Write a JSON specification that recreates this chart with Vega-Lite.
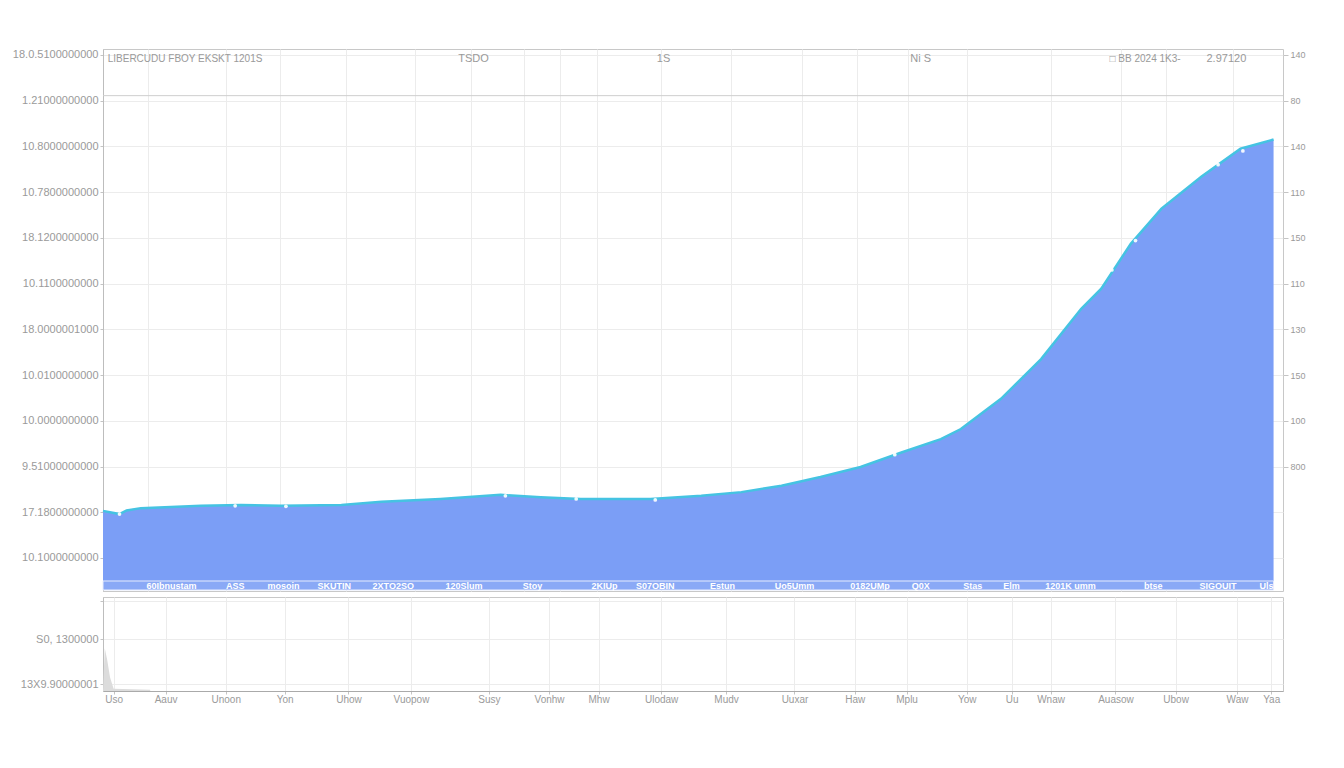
{
  "$schema": "https://vega.github.io/schema/vega-lite/v6.json",
  "padding": {"left": 5, "top": 48, "right": 5, "bottom": 5},
  "background": "white",
  "spacing": 4,
  "config": {
    "view": {"stroke": "#c8c8c8"},
    "axis": {"gridColor": "#ececec", "labelColor": "#9a9a9a", "labelFont": "Liberation Sans", "domainColor": "#bdbdbd", "tickColor": "#c4c4c4"}
  },
  "datasets": {
    "series": [
      {"t": 0, "v": 2.03}, {"t": 1.4, "v": 1.96}, {"t": 2.0, "v": 2.04}, {"t": 3.2, "v": 2.09},
      {"t": 8.3, "v": 2.14}, {"t": 11.7, "v": 2.16}, {"t": 15.1, "v": 2.14}, {"t": 20.2, "v": 2.16},
      {"t": 23.6, "v": 2.23}, {"t": 28.6, "v": 2.29}, {"t": 33.7, "v": 2.38}, {"t": 37.1, "v": 2.33},
      {"t": 40.5, "v": 2.29}, {"t": 46.4, "v": 2.29}, {"t": 50.7, "v": 2.36}, {"t": 54.1, "v": 2.44},
      {"t": 57.5, "v": 2.58}, {"t": 60.8, "v": 2.77}, {"t": 64.2, "v": 2.99}, {"t": 67.6, "v": 3.3},
      {"t": 71.0, "v": 3.6}, {"t": 72.7, "v": 3.82}, {"t": 76.1, "v": 4.48}, {"t": 79.5, "v": 5.35},
      {"t": 82.9, "v": 6.45}, {"t": 84.6, "v": 6.89}, {"t": 87.1, "v": 7.87}, {"t": 89.7, "v": 8.64},
      {"t": 93.1, "v": 9.34}, {"t": 96.4, "v": 9.95}, {"t": 99.2, "v": 10.15}
    ],
    "markers": [
      {"t": 1.4, "v": 1.96}, {"t": 11.2, "v": 2.14}, {"t": 15.5, "v": 2.13}, {"t": 34.1, "v": 2.36},
      {"t": 40.1, "v": 2.29}, {"t": 46.8, "v": 2.27}, {"t": 67.1, "v": 3.26}, {"t": 85.5, "v": 7.3},
      {"t": 87.5, "v": 7.94}, {"t": 94.5, "v": 9.6}, {"t": 96.6, "v": 9.9}
    ],
    "header": [
      {"t": 0.4, "label": "LIBERCUDU FBOY EKSKT 1201S", "a": "left"},
      {"t": 31.4, "label": "TSDO", "a": "center"},
      {"t": 47.5, "label": "1S", "a": "center"},
      {"t": 69.3, "label": "Ni  S", "a": "center"},
      {"t": 85.3, "label": "\u25a1  BB 2024 1K3-", "a": "left"},
      {"t": 95.2, "label": "2.97120", "a": "center"}
    ],
    "band": [
      {"t": 5.8, "label": "60Ibnustam"}, {"t": 11.2, "label": "ASS"}, {"t": 15.3, "label": "mosoin"},
      {"t": 19.6, "label": "SKUTIN"}, {"t": 24.6, "label": "2XTO2SO"}, {"t": 30.6, "label": "120Slum"},
      {"t": 36.4, "label": "Stoy"}, {"t": 42.5, "label": "2KIUp"}, {"t": 46.8, "label": "S07OBIN"},
      {"t": 52.5, "label": "Estun"}, {"t": 58.6, "label": "Uo5Umm"}, {"t": 65.0, "label": "0182UMp"},
      {"t": 69.3, "label": "Q0X"}, {"t": 73.7, "label": "Stas"}, {"t": 77.0, "label": "Elm"},
      {"t": 82.0, "label": "1201K umm"}, {"t": 89.0, "label": "btse"}, {"t": 94.5, "label": "SIGOUIT"},
      {"t": 98.6, "label": "Uls"}
    ],
    "spike": [
      {"t": 0, "v": 0.0}, {"t": 0.15, "v": 0.95}, {"t": 0.35, "v": 0.7}, {"t": 0.6, "v": 0.3},
      {"t": 0.9, "v": 0.05}, {"t": 4.0, "v": 0.03}
    ]
  },
  "vconcat": [
    {
      "width": 1180,
      "height": 542,
      "resolve": {"scale": {"y": "independent"}},
      "layer": [
        {
          "layer": [
            {
              "data": {"name": "series"},
              "mark": {"type": "area", "color": "#7b9ef6", "opacity": 1},
              "encoding": {
                "x": {"field": "t", "type": "quantitative", "title": null,
                  "scale": {"domain": [0, 100], "nice": false, "zero": false},
                  "axis": {"values": [3.8, 10.4, 15.0, 20.6, 26.4, 31.2, 35.7, 38.7, 41.9, 47.3, 53.2, 59.2, 63.9, 68.2, 73.2, 80.3, 86.3, 90.1, 95.8],
                    "labels": false, "ticks": false, "domain": false, "grid": true, "title": null, "minExtent": 0, "maxExtent": 0}},
                "y": {"field": "v", "type": "quantitative", "title": null,
                  "scale": {"domain": [0.278, 12.13], "nice": false, "zero": false},
                  "axis": {"values": [1, 2, 3, 4, 5, 6, 7, 8, 9, 10, 11, 12], "title": null,
                    "labelExpr": "['10.1000000000','17.1800000000','9.51000000000','10.0000000000','10.0100000000','18.0000001000','10.1100000000','18.1200000000','10.7800000000','10.8000000000','1.21000000000','18.0.5100000000'][datum.value-1]",
                    "labelFontSize": 11, "tickSize": 3, "minExtent": 97, "maxExtent": 97, "domain": true, "labelLimit": 0}},
                "y2": {"datum": 0.497}
              }
            },
            {
              "data": {"name": "series"},
              "mark": {"type": "line", "color": "#45c3e2", "strokeWidth": 2.5},
              "encoding": {
                "x": {"field": "t", "type": "quantitative", "title": null, "scale": {"domain": [0, 100], "nice": false, "zero": false}},
                "y": {"field": "v", "type": "quantitative", "title": null, "scale": {"domain": [0.278, 12.13], "nice": false, "zero": false}}
              }
            },
            {
              "data": {"name": "markers"},
              "mark": {"type": "point", "filled": true, "color": "white", "size": 14, "opacity": 0.9},
              "encoding": {
                "x": {"field": "t", "type": "quantitative", "title": null, "scale": {"domain": [0, 100], "nice": false, "zero": false}},
                "y": {"field": "v", "type": "quantitative", "title": null, "scale": {"domain": [0.278, 12.13], "nice": false, "zero": false}}
              }
            },
            {
              "data": {"values": [{}]},
              "mark": {"type": "rect", "color": "#8aa9f6", "stroke": "#e6ecfd", "strokeWidth": 1},
              "encoding": {
                "x": {"datum": 0, "type": "quantitative", "title": null, "scale": {"domain": [0, 100], "nice": false, "zero": false}},
                "x2": {"datum": 99.2},
                "y": {"datum": 0.3, "type": "quantitative", "title": null, "scale": {"domain": [0.278, 12.13], "nice": false, "zero": false}},
                "y2": {"datum": 0.497}
              }
            },
            {
              "data": {"name": "band"},
              "mark": {"type": "text", "color": "white", "fontSize": 9, "fontWeight": "bold", "font": "Liberation Sans"},
              "encoding": {
                "x": {"field": "t", "type": "quantitative", "title": null, "scale": {"domain": [0, 100], "nice": false, "zero": false}},
                "y": {"datum": 0.39, "type": "quantitative", "title": null, "scale": {"domain": [0.278, 12.13], "nice": false, "zero": false}},
                "text": {"field": "label"}
              }
            },
            {
              "data": {"values": [{}]},
              "mark": {"type": "rule", "color": "#cfcfcf", "strokeWidth": 1},
              "encoding": {
                "y": {"datum": 11.11, "type": "quantitative", "title": null, "scale": {"domain": [0.278, 12.13], "nice": false, "zero": false}}
              }
            },
            {
              "data": {"name": "header"},
              "transform": [{"filter": "datum.a == 'left'"}],
              "mark": {"type": "text", "color": "#9a9a9a", "fontSize": 10, "align": "left", "font": "Liberation Sans"},
              "encoding": {
                "x": {"field": "t", "type": "quantitative", "title": null, "scale": {"domain": [0, 100], "nice": false, "zero": false}},
                "y": {"datum": 11.92, "type": "quantitative", "title": null, "scale": {"domain": [0.278, 12.13], "nice": false, "zero": false}},
                "text": {"field": "label"}
              }
            },
            {
              "data": {"name": "header"},
              "transform": [{"filter": "datum.a == 'center'"}],
              "mark": {"type": "text", "color": "#9a9a9a", "fontSize": 11, "align": "center", "font": "Liberation Sans"},
              "encoding": {
                "x": {"field": "t", "type": "quantitative", "title": null, "scale": {"domain": [0, 100], "nice": false, "zero": false}},
                "y": {"datum": 11.92, "type": "quantitative", "title": null, "scale": {"domain": [0.278, 12.13], "nice": false, "zero": false}},
                "text": {"field": "label"}
              }
            }
          ]
        },
        {
          "data": {"name": "series"},
          "mark": {"type": "line", "strokeOpacity": 0},
          "encoding": {
            "x": {"field": "t", "type": "quantitative", "title": null, "scale": {"domain": [0, 100], "nice": false, "zero": false}},
            "y": {"field": "v", "type": "quantitative", "title": null,
              "scale": {"domain": [0.278, 12.13], "nice": false, "zero": false},
              "axis": {"orient": "right", "grid": false, "values": [3, 4, 5, 6, 7, 8, 9, 10, 11, 12], "title": null,
                "labelExpr": "['800','100','150','130','110','150','110','140','80','140'][datum.value-3]",
                "labelFontSize": 9, "tickSize": 5, "domain": false}}
          }
        }
      ]
    },
    {
      "width": 1180,
      "height": 94,
      "data": {"name": "spike"},
      "mark": {"type": "area", "color": "#dcdcdc"},
      "encoding": {
        "x": {"field": "t", "type": "quantitative", "title": null,
          "scale": {"domain": [0, 100], "nice": false, "zero": false},
          "axis": {"values": [0.9, 5.3, 10.4, 15.4, 20.8, 26.1, 32.7, 37.8, 42.0, 47.3, 52.8, 58.6, 63.7, 68.1, 73.2, 77.0, 80.3, 85.8, 90.9, 96.1, 99.0],
            "labelExpr": "['Uso','Aauv','Unoon','Yon','Uhow','Vuopow','Susy','Vonhw','Mhw','Ulodaw','Mudv','Uuxar','Haw','Mplu','Yow','Uu','Wnaw','Auasow','Ubow','Waw','Yaa'][indexof([0.9,5.3,10.4,15.4,20.8,26.1,32.7,37.8,42.0,47.3,52.8,58.6,63.7,68.1,73.2,77.0,80.3,85.8,90.9,96.1,99.0], datum.value)]",
            "labelFontSize": 10, "tickSize": 3, "labelPadding": 0, "title": null, "domainColor": "#aaaaaa"}},
        "y": {"field": "v", "type": "quantitative", "title": null,
          "scale": {"domain": [0, 2.09], "nice": false, "zero": false},
          "axis": {"values": [0.15, 1.15, 2.0], "title": null,
            "labelExpr": "datum.value == 0.15 ? '13X9.90000001' : datum.value == 1.15 ? 'S0, 1300000' : ''",
            "labelFontSize": 11, "tickSize": 3, "minExtent": 97, "maxExtent": 97, "labelLimit": 0}}
      }
    }
  ]
}
